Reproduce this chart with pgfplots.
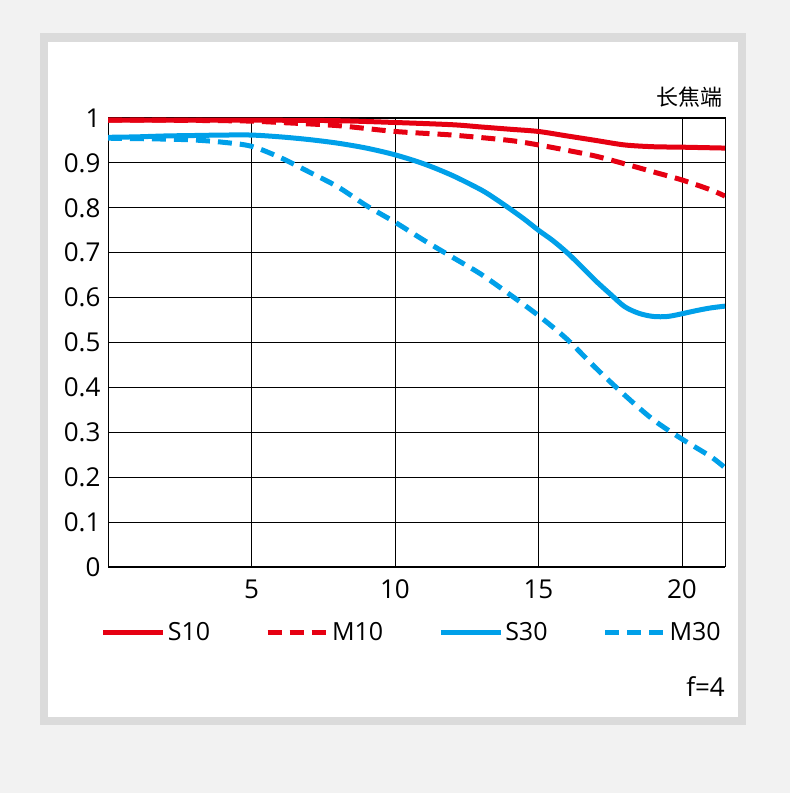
\documentclass[border=0pt]{standalone}
\usepackage{fontspec}
\setmainfont{Open Sans}
\newfontfamily\cjk{Noto Sans CJK SC}
\usepackage{pgfplots}
\pgfplotsset{compat=1.18}
\definecolor{mred}{HTML}{E60012}
\definecolor{mblue}{HTML}{00A0E9}
\begin{document}
\begin{tikzpicture}[x=1pt,y=1pt]
\fill[black!5] (0pt,0pt) rectangle (790pt,793pt);
\fill[black!14] (40pt,68pt) rectangle (746pt,760pt);
\fill[white] (48pt,76pt) rectangle (738pt,751pt);
\begin{axis}[
  at={(108pt,226pt)}, anchor=south west,
  scale only axis, width=617pt, height=449pt,
  xmin=0, xmax=21.5, ymin=0, ymax=1,
  xtick={5,10,15,20}, ytick={0,0.1,0.2,0.3,0.4,0.5,0.6,0.7,0.8,0.9,1},
  yticklabels={0,0.1,0.2,0.3,0.4,0.5,0.6,0.7,0.8,0.9,1},
  xticklabels={5,10,15,20},
  major tick length=0pt,
  grid=major,
  major grid style={black, line width=0.9pt},
  axis line style={black, line width=1pt},
  tick label style={font=\fontsize{26}{29}\selectfont},
  xticklabel style={yshift=-9pt},
  yticklabel style={xshift=-4pt},
  legend columns=4,
  legend style={draw=none, fill=none, at={(axis description cs:-0.012,-0.145)}, anchor=west,
    font=\fontsize{25}{28}\selectfont, inner sep=0pt,
    /tikz/every even column/.append style={column sep=53pt}},
  legend image code/.code={\draw[#1] (0pt,0pt) -- (60pt,0pt);},
  every axis plot/.append style={line width=5pt},
]
\addplot[mred, smooth] coordinates {(0,0.995)(2,0.995)(4,0.995)(6,0.995)(8,0.994)(10,0.99)(12,0.985)(13,0.98)(14,0.975)(15,0.97)(16,0.96)(17,0.95)(18,0.94)(19,0.936)(20,0.935)(21.5,0.933)};
\addlegendentry{S10}
\addplot[mred, smooth, dash pattern=on 14pt off 8pt] coordinates {(0,0.995)(2,0.995)(4,0.994)(5,0.993)(6,0.99)(8,0.983)(10,0.97)(12,0.962)(14,0.95)(15,0.94)(16,0.928)(17,0.915)(18,0.898)(19,0.88)(20,0.862)(21,0.84)(21.5,0.826)};
\addlegendentry{M10}
\addplot[mblue, smooth] coordinates {(0,0.957)(1,0.958)(2,0.96)(3,0.961)(4,0.962)(5,0.962)(6,0.958)(7,0.952)(8,0.944)(9,0.933)(10,0.918)(11,0.898)(12,0.872)(13,0.84)(13.5,0.82)(14,0.798)(14.5,0.775)(15,0.75)(15.5,0.727)(16,0.70)(16.5,0.669)(17,0.637)(17.5,0.608)(18,0.58)(18.5,0.565)(19,0.558)(19.5,0.558)(20,0.564)(20.5,0.571)(21,0.577)(21.5,0.581)};
\addlegendentry{S30}
\addplot[mblue, smooth, dash pattern=on 14pt off 8pt] coordinates {(0,0.955)(1,0.954)(2,0.953)(3,0.951)(4,0.946)(5,0.937)(6,0.912)(7,0.88)(8,0.847)(9,0.805)(10,0.768)(11,0.728)(12,0.69)(13,0.652)(14,0.607)(15,0.56)(16,0.507)(17,0.443)(18,0.383)(19,0.328)(20,0.285)(21,0.246)(21.5,0.221)};
\addlegendentry{M30}
\end{axis}
\node[anchor=east, inner sep=0pt, font=\cjk\fontsize{22}{24}\selectfont] at (723pt,696pt) {长焦端};
\node[anchor=east, inner sep=0pt, font=\fontsize{26}{28}\selectfont] at (725pt,106pt) {f=4};
\end{tikzpicture}
\end{document}
